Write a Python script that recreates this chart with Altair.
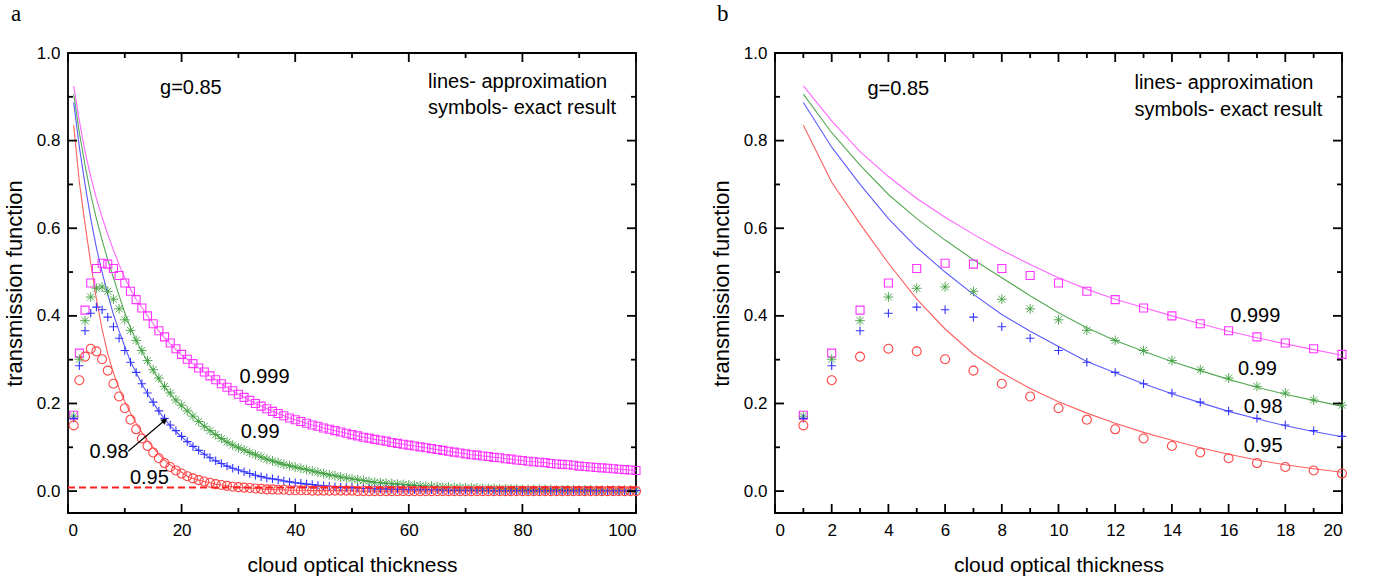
import altair as alt
import pandas as pd

# ---------------- data ----------------
tau = list(range(1, 101))
series_names = ["0.999", "0.99", "0.98", "0.95"]

# exact results (symbols), tau = 1..100
exact_0999 = [
    0.173, 0.315, 0.413, 0.475, 0.508, 0.520, 0.518, 0.508, 0.492, 0.475,
    0.456, 0.437, 0.418, 0.400, 0.382, 0.366, 0.352, 0.338, 0.325, 0.312,
    0.301, 0.291, 0.281, 0.272, 0.263, 0.254, 0.245, 0.237, 0.229, 0.221,
    0.214, 0.207, 0.200, 0.194, 0.188, 0.182, 0.177, 0.172, 0.167, 0.163,
    0.159, 0.155, 0.151, 0.148, 0.144, 0.141, 0.138, 0.135, 0.132, 0.129,
    0.126, 0.123, 0.121, 0.118, 0.116, 0.114, 0.111, 0.109, 0.107, 0.105,
    0.103, 0.101, 0.099, 0.097, 0.095, 0.093, 0.091, 0.089, 0.087, 0.085,
    0.083, 0.082, 0.080, 0.079, 0.077, 0.076, 0.074, 0.073, 0.071, 0.070,
    0.068, 0.067, 0.066, 0.065, 0.063, 0.062, 0.061, 0.060, 0.059, 0.057,
    0.056, 0.055, 0.054, 0.053, 0.052, 0.051, 0.050, 0.049, 0.048, 0.047,
]
exact_099 = [
    0.171, 0.301, 0.389, 0.443, 0.463, 0.466, 0.456, 0.438, 0.416, 0.391,
    0.367, 0.344, 0.321, 0.298, 0.277, 0.258, 0.239, 0.224, 0.208, 0.196,
    0.183, 0.171, 0.159, 0.148, 0.138, 0.129, 0.120, 0.112, 0.105, 0.099,
    0.094, 0.088, 0.083, 0.078, 0.073, 0.069, 0.065, 0.061, 0.058, 0.055,
    0.052, 0.049, 0.046, 0.043, 0.040, 0.037, 0.035, 0.032, 0.030, 0.028,
    0.026, 0.024, 0.022, 0.020, 0.019, 0.018, 0.017, 0.016, 0.015, 0.014,
    0.013, 0.012, 0.011, 0.011, 0.010, 0.009, 0.009, 0.008, 0.008, 0.007,
    0.007, 0.007, 0.006, 0.006, 0.006, 0.005, 0.005, 0.005, 0.005, 0.004,
    0.004, 0.004, 0.004, 0.004, 0.004, 0.003, 0.003, 0.003, 0.003, 0.003,
    0.003, 0.003, 0.002, 0.002, 0.002, 0.002, 0.002, 0.002, 0.002, 0.002,
]
exact_098 = [
    0.166, 0.286, 0.366, 0.406, 0.420, 0.414, 0.397, 0.375, 0.349, 0.321,
    0.294, 0.271, 0.245, 0.224, 0.203, 0.183, 0.166, 0.151, 0.138, 0.125,
    0.113, 0.102, 0.093, 0.084, 0.076, 0.069, 0.063, 0.057, 0.052, 0.048,
    0.044, 0.040, 0.036, 0.033, 0.030, 0.028, 0.026, 0.023, 0.021, 0.019,
    0.018, 0.016, 0.015, 0.013, 0.012, 0.011, 0.010, 0.009, 0.008, 0.008,
    0.007, 0.006, 0.006, 0.005, 0.005, 0.005, 0.004, 0.004, 0.004, 0.003,
    0.003, 0.003, 0.003, 0.003, 0.003, 0.002, 0.002, 0.002, 0.002, 0.002,
    0.002, 0.002, 0.002, 0.002, 0.001, 0.001, 0.001, 0.001, 0.001, 0.001,
    0.001, 0.001, 0.001, 0.001, 0.001, 0.001, 0.001, 0.001, 0.001, 0.001,
    0.001, 0.001, 0.001, 0.001, 0.001, 0.001, 0.001, 0.001, 0.001, 0.001,
]
exact_095 = [
    0.150, 0.253, 0.307, 0.325, 0.319, 0.301, 0.275, 0.245, 0.216, 0.189,
    0.163, 0.141, 0.120, 0.103, 0.088, 0.075, 0.064, 0.055, 0.047, 0.040,
    0.034, 0.029, 0.025, 0.022, 0.019, 0.016, 0.014, 0.012, 0.010, 0.009,
    0.008, 0.007, 0.006, 0.005, 0.004, 0.004, 0.003, 0.003, 0.002, 0.002,
    0.002, 0.002, 0.001, 0.001, 0.001, 0.001, 0.001, 0.001, 0.001, 0.001,
    0.000, 0.000, 0.000, 0.000, 0.000, 0.000, 0.000, 0.000, 0.000, 0.000,
    0.000, 0.000, 0.000, 0.000, 0.000, 0.000, 0.000, 0.000, 0.000, 0.000,
    0.000, 0.000, 0.000, 0.000, 0.000, 0.000, 0.000, 0.000, 0.000, 0.000,
    0.000, 0.000, 0.000, 0.000, 0.000, 0.000, 0.000, 0.000, 0.000, 0.000,
    0.000, 0.000, 0.000, 0.000, 0.000, 0.000, 0.000, 0.000, 0.000, 0.000,
]

# approximation (lines), tau = 1..20; beyond 20 the lines lie on the symbols
approx_0999_head = [0.925, 0.845, 0.775, 0.718, 0.668, 0.625, 0.586, 0.550, 0.517, 0.487,
                    0.461, 0.438, 0.419, 0.400, 0.382, 0.365, 0.350, 0.336, 0.323, 0.310]
approx_099_head = [0.906, 0.818, 0.744, 0.677, 0.622, 0.573, 0.528, 0.487, 0.446, 0.407,
                   0.373, 0.344, 0.319, 0.296, 0.275, 0.255, 0.237, 0.221, 0.207, 0.194]
approx_098_head = [0.887, 0.785, 0.700, 0.622, 0.556, 0.500, 0.449, 0.403, 0.365, 0.330,
                   0.296, 0.270, 0.245, 0.222, 0.202, 0.182, 0.165, 0.149, 0.136, 0.124]
approx_095_head = [0.835, 0.705, 0.610, 0.520, 0.438, 0.370, 0.313, 0.270, 0.234, 0.204,
                   0.178, 0.155, 0.134, 0.116, 0.099, 0.084, 0.071, 0.060, 0.051, 0.043]

exact = {"0.999": exact_0999, "0.99": exact_099, "0.98": exact_098, "0.95": exact_095}
approx = {
    "0.999": approx_0999_head + exact_0999[20:],
    "0.99": approx_099_head + exact_099[20:],
    "0.98": approx_098_head + exact_098[20:],
    "0.95": approx_095_head + exact_095[20:],
}

threshold_level = [0.008]

y_major = [0.0, 0.2, 0.4, 0.6, 0.8, 1.0]
y_minor = [0.1, 0.3, 0.5, 0.7, 0.9]
xa_major = [0, 20, 40, 60, 80, 100]
xa_minor = [10, 30, 50, 70, 90]
xb_major = [0, 2, 4, 6, 8, 10, 12, 14, 16, 18, 20]
xb_minor = [1, 3, 5, 7, 9, 11, 13, 15, 17, 19]

annot_a_text = ["g=0.85", "lines- approximation", "symbols- exact result", "0.999", "0.99", "0.98", "0.95"]
annot_a_x = [16.2, 63.4, 63.4, 30.2, 30.4, 3.8, 10.9]
annot_a_y = [0.920, 0.934, 0.874, 0.261, 0.135, 0.090, 0.029]
annot_b_text = ["g=0.85", "lines- approximation", "symbols- exact result", "0.999", "0.99", "0.98", "0.95"]
annot_b_x = [3.26, 12.68, 12.68, 16.06, 16.33, 16.53, 16.53]
annot_b_y = [0.918, 0.932, 0.871, 0.400, 0.279, 0.191, 0.103]

arrow_from = (10.6, 0.091)
arrow_to = (16.9, 0.160)

# ---------------- styling ----------------
FONT = "Liberation Sans"
line_colors = {"0.999": "#ff66ff", "0.99": "#55aa55", "0.98": "#5b5bff", "0.95": "#ff5f5f"}
sym_colors = {"0.999": "#ff33ff", "0.99": "#3f9f3f", "0.98": "#3434ff", "0.95": "#ff4545"}
sym_widths = {"0.999": 1.1, "0.99": 0.9, "0.98": 1.1, "0.95": 1.1}
PLUS = "M-1,0L1,0M0,-1L0,1"
STAR = "M-1,0L1,0M0,-1L0,1M-0.72,-0.72L0.72,0.72M-0.72,0.72L0.72,-0.72"
sym_shapes = {"0.999": "square", "0.99": STAR, "0.98": PLUS, "0.95": "circle"}
sym_sizes = {"0.999": 64, "0.99": 95, "0.98": 72, "0.95": 81}

H = 460
Y_LO, Y_HI = -0.05, 1.0
MAJ_PX = 9
MIN_PX = 5


def tick_segments(xmax, W, xmaj, xmin):
    """Inward tick segments on all four sides, as data-space endpoints."""
    ypu = H / (Y_HI - Y_LO)   # pixels per y unit
    xpu = W / xmax            # pixels per x unit
    rows = []
    for vals, px in ((xmaj, MAJ_PX), (xmin, MIN_PX)):
        for v in vals:
            rows.append({"tau": v, "tau2": v, "T": Y_LO, "T2": Y_LO + px / ypu})
            rows.append({"tau": v, "tau2": v, "T": Y_HI, "T2": Y_HI - px / ypu})
    for vals, px in ((y_major, MAJ_PX), (y_minor, MIN_PX)):
        for v in vals:
            rows.append({"tau": 0, "tau2": px / xpu, "T": v, "T2": v})
            rows.append({"tau": xmax, "tau2": xmax - px / xpu, "T": v, "T2": v})
    return pd.DataFrame(rows)


def panel(n, xmax, xmaj, xmin, W, texts, xs_t, ys_t, letter, letter_x, with_extras):
    xs = alt.Scale(domain=[0, xmax], nice=False, zero=False)
    ys = alt.Scale(domain=[Y_LO, Y_HI], nice=False, zero=False)

    rows = []
    for s in series_names:
        for i in range(n):
            rows.append({"tau": tau[i], "T": approx[s][i], "series": s})
    line_df = pd.DataFrame(rows)

    # the only explicit axes of the panel; all other layers share them
    lines = alt.Chart(line_df).mark_line(strokeWidth=1.1).encode(
        x=alt.X("tau:Q", scale=xs,
                axis=alt.Axis(orient="bottom", values=xmaj, format="d", ticks=False, tickSize=0,
                              domain=False, grid=False, labels=True, labelPadding=9,
                              title="cloud optical thickness", titlePadding=16, titleFontSize=21)),
        y=alt.Y("T:Q", scale=ys,
                axis=alt.Axis(orient="left", values=y_major, format=".1f", ticks=False, tickSize=0,
                              domain=False, grid=False, labels=True, labelPadding=8,
                              title="transmission function", titlePadding=10, titleFontSize=22)),
        color=alt.Color("series:N",
                        scale=alt.Scale(domain=series_names, range=[line_colors[s] for s in series_names]),
                        legend=None),
        detail="series:N",
    )
    layers = [lines]

    for s in series_names:
        df = pd.DataFrame({"tau": tau[:n], "T": exact[s][:n]})
        layers.append(
            alt.Chart(df).mark_point(shape=sym_shapes[s], filled=False, size=sym_sizes[s],
                                     strokeWidth=sym_widths[s], color=sym_colors[s], opacity=1).encode(
                x=alt.X("tau:Q", scale=xs),
                y=alt.Y("T:Q", scale=ys),
            )
        )

    if with_extras:
        dash_df = pd.DataFrame({"T": threshold_level})
        layers.append(
            alt.Chart(dash_df).mark_rule(color="#ff2020", strokeWidth=2, strokeDash=[7, 4]).encode(
                y=alt.Y("T:Q", scale=ys)
            )
        )
        arr_df = pd.DataFrame({"tau": [arrow_from[0]], "T": [arrow_from[1]],
                               "tau2": [arrow_to[0]], "T2": [arrow_to[1]]})
        layers.append(
            alt.Chart(arr_df).mark_rule(color="black", strokeWidth=1.2).encode(
                x=alt.X("tau:Q", scale=xs), y=alt.Y("T:Q", scale=ys),
                x2="tau2:Q", y2="T2:Q",
            )
        )
        head_df = pd.DataFrame({"tau": [arrow_to[0]], "T": [arrow_to[1]]})
        layers.append(
            alt.Chart(head_df).mark_point(shape="triangle", filled=True, size=45, angle=50,
                                          color="black", opacity=1).encode(
                x=alt.X("tau:Q", scale=xs), y=alt.Y("T:Q", scale=ys),
            )
        )

    # inward ticks on all four sides (segments through the shared scales)
    layers.append(
        alt.Chart(tick_segments(xmax, W, xmaj, xmin)).mark_rule(color="black", strokeWidth=1.8).encode(
            x=alt.X("tau:Q", scale=xs), y=alt.Y("T:Q", scale=ys),
            x2="tau2:Q", y2="T2:Q",
        )
    )

    text_df = pd.DataFrame({"label": texts, "tau": xs_t, "T": ys_t})
    layers.append(
        alt.Chart(text_df).mark_text(align="left", baseline="middle", fontSize=20, font=FONT,
                                     color="black").encode(
            x=alt.X("tau:Q", scale=xs),
            y=alt.Y("T:Q", scale=ys),
            text="label:N",
        )
    )
    letter_df = pd.DataFrame({"t": [letter]})
    layers.append(
        alt.Chart(letter_df).mark_text(align="left", baseline="top", fontSize=23,
                                       font="Liberation Serif", color="black").encode(
            x=alt.value(letter_x), y=alt.value(-50), text="t:N",
        )
    )

    return alt.layer(*layers).properties(width=W, height=H)


left = panel(100, 100, xa_major, xa_minor, 568, annot_a_text, annot_a_x, annot_a_y, "a", -57, True)
right = panel(20, 20, xb_major, xb_minor, 567, annot_b_text, annot_b_x, annot_b_y, "b", -58, False)

chart = alt.hconcat(left, right, spacing=139, bounds="flush").properties(
    padding={"left": 2, "top": 2, "right": 5, "bottom": 0},
    background="white",
).configure_view(
    stroke="black", strokeWidth=1.8
).configure_axis(
    labelFont=FONT, labelFontSize=17, labelColor="black",
    titleFont=FONT, titleFontWeight="normal", titleColor="black",
)

chart.save("out.html", embed_options={"renderer": "svg", "actions": False})
